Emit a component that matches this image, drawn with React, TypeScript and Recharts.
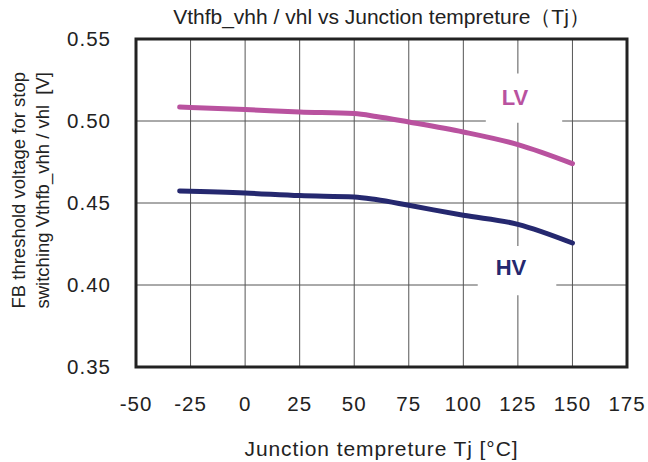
import React from "react";
import {
  LineChart,
  Line,
  XAxis,
  YAxis,
  CartesianGrid,
  ReferenceArea,
} from "recharts";

// Junction temperature [°C] sample points
const temps = [-30, 0, 25, 50, 60, 75, 100, 125, 150];
// Threshold voltages [V]
const lvValues = [0.5085, 0.507, 0.5055, 0.5045, 0.5028, 0.4994, 0.4933, 0.4856, 0.474];
const hvValues = [0.4573, 0.4561, 0.4545, 0.4537, 0.4521, 0.4486, 0.4425, 0.437, 0.4256];

const xTicks = [-50, -25, 0, 25, 50, 75, 100, 125, 150, 175];
const yTicks = [0.35, 0.4, 0.45, 0.5, 0.55];

const LV_COLOR = "#b9529f";
const HV_COLOR = "#25286f";
const FONT = "'Liberation Sans', Arial, sans-serif";

const rows = temps.map((t, i) => ({ t, lv: lvValues[i], hv: hvValues[i] }));

function YTitle() {
  return (
    <text
      transform="translate(30,72) rotate(-90)"
      textAnchor="end"
      fontSize={18.5}
      fill="#222"
      fontFamily={FONT}
      style={{ whiteSpace: "pre" }}
    >
      <tspan x={0} dy={-5}>FB threshold voltage for stop</tspan>
      <tspan x={0} dy={24}>{"switching Vthfb_vhh / vhl \u00a0[V]"}</tspan>
    </text>
  );
}

function BoxLabel({ viewBox, text, color, dx = 0, dy = 0 }: any) {
  const { x, y, width, height } = viewBox;
  return (
    <text
      x={x + width / 2 + dx}
      y={y + height / 2 + dy}
      textAnchor="middle"
      dominantBaseline="central"
      fontSize={22}
      fontWeight="bold"
      fill={color}
      fontFamily={FONT}
    >
      {text}
    </text>
  );
}

export default function App() {
  return (
    <div style={{ position: "absolute", left: 0, top: 0, width: 648, height: 462, background: "#fff" }}>
      <div
        style={{
          position: "absolute",
          left: 163,
          top: 3,
          width: 437,
          textAlign: "center",
          fontFamily: FONT,
          fontSize: 21,
          color: "#222",
          lineHeight: "28px",
          whiteSpace: "nowrap",
        }}
      >
        Vthfb_vhh / vhl vs Junction tempreture（Tj）
      </div>
      <LineChart
        width={648}
        height={462}
        data={rows}
        margin={{ top: 39, right: 21, bottom: 0, left: 0 }}
      >
        <CartesianGrid stroke="#555" strokeWidth={1} horizontalValues={yTicks} verticalValues={xTicks} />
        <XAxis
          dataKey="t"
          type="number"
          domain={[-50, 175]}
          ticks={xTicks}
          height={95}
          axisLine={false}
          tickLine={false}
          tickMargin={23}
          tick={{ fontSize: 20.5, fill: "#222", fontFamily: FONT, letterSpacing: 1 }}
          label={{
            value: "Junction tempreture Tj [°C]",
            position: "insideBottom",
            offset: 6,
            fontSize: 21,
            fill: "#222",
            fontFamily: FONT,
            letterSpacing: 0.9,
          }}
        />
        <YAxis
          type="number"
          domain={[0.35, 0.55]}
          ticks={yTicks}
          width={136}
          axisLine={false}
          tickLine={false}
          tickMargin={19}
          tickFormatter={(v: number) => v.toFixed(2)}
          tick={{ fontSize: 20.5, fill: "#222", fontFamily: FONT, letterSpacing: 1 }}
          label={<YTitle />}
        />
        <ReferenceArea
          x1={110.3}
          x2={145.3}
          y1={0.499}
          y2={0.5289}
          fill="#fff"
          fillOpacity={1}
          stroke="none"
          label={<BoxLabel text="LV" color={LV_COLOR} dx={-9} dy={-1} />}
        />
        <ReferenceArea
          x1={106.6}
          x2={142.6}
          y1={0.3937}
          y2={0.4238}
          fill="#fff"
          fillOpacity={1}
          stroke="none"
          label={<BoxLabel text="HV" color={HV_COLOR} dx={-6} dy={-3} />}
        />
        <ReferenceArea
          x1={-50}
          x2={175}
          y1={0.35}
          y2={0.55}
          fill="none"
          stroke="#222"
          strokeWidth={3}
        />
        <Line
          type="monotone"
          dataKey="lv"
          stroke={LV_COLOR}
          strokeWidth={5}
          strokeLinecap="round"
          dot={false}
          isAnimationActive={false}
        />
        <Line
          type="monotone"
          dataKey="hv"
          stroke={HV_COLOR}
          strokeWidth={5}
          strokeLinecap="round"
          dot={false}
          isAnimationActive={false}
        />
      </LineChart>
    </div>
  );
}
